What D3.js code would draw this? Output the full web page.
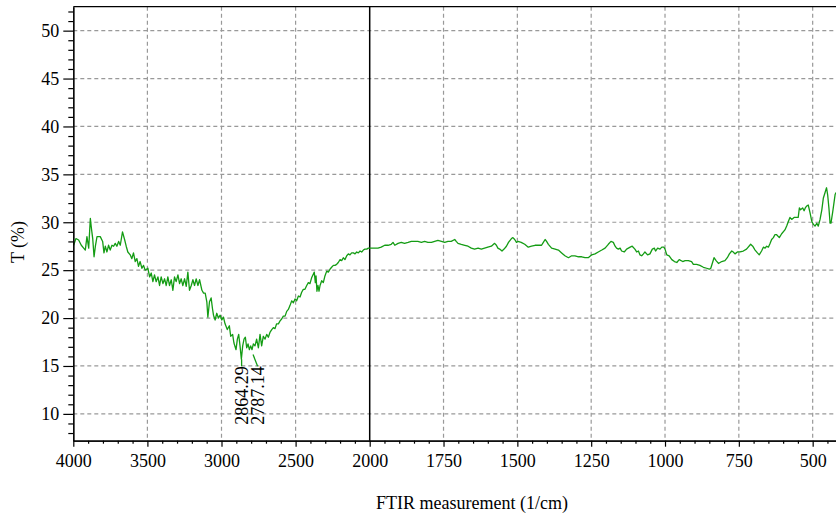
<!DOCTYPE html>
<html>
<head>
<meta charset="utf-8">
<script src="https://cdn.jsdelivr.net/npm/d3@7"></script>
<style>
  html, body { margin: 0; padding: 0; background: #fff; }
  svg { display: block; }
</style>
</head>
<body>
<svg id="chart" width="836" height="514"></svg>
<script>
// ---------------- DATA ----------------
const wavenumber = [
  3998,3982,3964,3946,3930,3919,3908,3896,3885,3878,3869,3860,3851,3840,3818,3802,3793,3784,3773,3762,
  3751,3739,3728,3717,3706,3694,3683,3668,3654,3643,3632,3616,3605,3594,3582,3571,3560,3549,3537,3526,
  3515,3497,3485,3474,3463,3452,3441,3429,3418,3407,3395,3384,3373,3362,3351,3339,3328,3317,3306,3294,
  3283,3272,3261,3249,3238,3227,3216,3204,3193,3182,3171,3159,3148,3132,3121,3110,3099,3092,3081,3070,
  3061,3054,3043,3032,3021,3009,2998,2987,2976,2961,2947,2938,2925,2916,2902,2893,2884,2875,2866,2857,
  2848,2839,2830,2821,2812,2803,2794,2785,2774,2763,2751,2740,2729,2718,2706,2695,2684,2673,2661,2650,
  2639,2628,2616,2605,2594,2583,2571,2560,2549,2538,2526,2515,2504,2493,2481,2470,2459,2448,2437,2425,
  2414,2403,2392,2380,2374,2367,2362,2356,2349,2342,2335,2324,2313,2302,2290,2279,2268,2257,2245,2234,
  2223,2212,2200,2189,2178,2167,2155,2144,2133,2122,2110,2099,2088,2077,2065,2054,2043,2032,2020,2009,
  1995,1983,1972,1961,1949,1938,1927,1921,1915,1904,1893,1882,1870,1859,1848,1837,1825,1814,1803,1791,
  1780,1769,1757,1746,1735,1724,1712,1707,1701,1690,1678,1667,1656,1645,1633,1622,1611,1600,1588,1577,
  1571,1566,1560,1552,1545,1537,1530,1520,1515,1509,1503,1498,1487,1475,1463,1452,1440,1429,1418,1412,
  1406,1401,1395,1384,1372,1361,1350,1339,1327,1316,1305,1293,1282,1271,1260,1248,1237,1226,1214,1203,
  1192,1183,1175,1169,1164,1158,1152,1147,1138,1130,1118,1111,1102,1096,1090,1085,1079,1073,1068,1059,
  1051,1043,1036,1032,1025,1017,1011,1004,1000,994,986,977,968,960,952,940,932,921,910,904,
  893,882,870,859,850,845,840,834,827,819,808,797,789,782,774,769,763,755,746,735,
  724,710,703,695,687,681,673,667,661,656,650,644,639,633,628,622,613,605,594,588,
  582,577,571,563,554,549,545,541,534,529,525,520,515,509,503,498,492,486,481,475,
  469,464,458,453,449,445,441,438,432,428,424,421
];
const transmittance = [
  27.6,28.3,28.15,27.6,27.3,27.1,28.5,27.3,30.4,29.4,28.3,26.4,27.5,28.5,28.5,28.0,26.8,27.5,26.9,27.6,
  27.1,27.6,27.5,27.8,27.5,28.0,27.6,29.0,28.2,27.5,26.9,26.6,26.2,26.8,25.9,26.2,25.4,25.9,25.2,25.5,
  25.0,25.2,24.3,24.7,23.8,24.5,23.8,24.3,23.4,24.3,23.6,24.1,23.4,24.3,23.4,24.0,22.9,24.3,23.8,24.5,
  23.6,24.1,23.4,24.1,23.3,24.8,22.9,23.4,24.0,23.4,24.1,23.4,24.0,22.9,22.6,22.6,21.7,20.1,21.7,22.1,
  21.0,20.3,19.8,20.5,20.0,20.3,19.8,20.1,19.4,18.8,19.2,18.1,18.3,17.4,16.7,17.8,18.3,17.1,15.7,17.1,
  17.8,18.0,16.9,17.3,16.7,17.1,16.7,17.3,17.1,17.8,16.9,18.3,17.1,18.1,17.8,18.3,18.0,18.5,18.8,19.0,
  18.9,19.4,19.4,19.7,19.9,20.2,20.2,20.7,20.9,21.3,21.8,21.6,22.0,21.8,22.3,22.2,22.7,23.0,23.0,23.4,
  23.7,23.6,24.2,24.6,24.8,23.7,24.4,22.8,23.4,22.8,23.4,23.9,23.7,24.4,24.9,24.8,25.1,25.3,25.5,25.5,
  25.6,25.8,26.1,26.0,26.3,26.1,26.5,26.7,26.6,26.8,26.8,26.7,26.9,26.8,27.0,26.9,27.1,27.2,27.2,27.3,
  27.3,27.3,27.3,27.4,27.6,27.6,27.7,27.9,27.6,27.8,27.9,27.8,27.9,28.0,28.0,28.0,27.9,28.0,27.9,27.9,
  28.0,28.1,28.0,27.9,28.0,28.0,28.2,28.0,27.8,27.7,27.6,27.5,27.3,27.2,27.3,27.2,27.3,27.4,27.5,27.8,
  27.6,27.3,27.2,27.0,27.2,27.5,27.9,28.3,28.4,28.2,27.9,28.0,27.9,27.7,27.4,27.5,27.6,27.6,27.6,27.9,
  28.2,28.0,27.7,27.3,27.2,27.1,26.8,26.5,26.3,26.5,26.5,26.4,26.4,26.3,26.3,26.6,26.7,26.9,27.1,27.3,
  27.7,28.0,27.9,27.5,27.3,27.2,27.3,27.0,26.9,27.2,27.4,27.5,27.2,26.9,27.0,26.6,26.5,26.7,26.9,26.6,
  26.7,27.2,27.3,27.0,27.3,27.2,27.4,27.4,27.2,26.6,26.5,26.1,25.9,25.8,26.1,25.9,26.0,26.0,25.9,25.6,
  25.6,25.5,25.3,25.2,25.1,25.2,25.7,26.3,26.0,25.7,25.9,26.0,26.3,26.7,27.0,26.9,26.7,26.9,26.9,27.0,
  27.2,27.7,27.5,27.1,26.8,26.6,27.0,27.4,27.3,27.5,27.4,27.8,28.2,28.4,28.7,28.7,28.4,28.8,29.2,29.6,
  30.1,30.5,30.3,30.5,30.5,30.5,31.5,31.3,31.5,31.2,31.5,31.7,31.8,31.0,30.1,29.8,29.6,29.9,29.6,30.3,
  31.3,32.5,33.1,33.6,32.8,31.5,29.9,29.9,31.1,32.0,32.9,33.1
];
const xMajorTicks = [4000, 3500, 3000, 2500, 2000, 1750, 1500, 1250, 1000, 750, 500];
const yMajorTicks = [10, 15, 20, 25, 30, 35, 40, 45, 50];
const peakLabels = ["2864.29", "2787.14"];
const peakWavenumber = [2864.29, 2787.14];
const peakTransmittance = [15.7, 16.2];
const xTitle = "FTIR measurement (1/cm)";
const yTitle = "T (%)";

// ---------------- LAYOUT ----------------
(function () {
const svg = d3.select("#chart");
const FONT = "\"Liberation Serif\", cursive";
const pL = 73.3, pR = 836, pT = 6.7, pB = 440.7;
const breakWn = 2000;

const x = d3.scaleLinear().domain([4000, breakWn, 421]).range([pL, 369.7, pR]);
const y = d3.scaleLinear().domain([7.2, 52.5]).range([pB, pT]);

const xMinor = d3.range(4000, 2000, -100).concat(d3.range(2000, 421, -50)).filter(v => !xMajorTicks.includes(v));
const yMinor = d3.range(8, 53, 1).filter(v => !yMajorTicks.includes(v));

// grid
const grid = svg.append("g").attr("stroke", "#999").attr("stroke-width", 1.2).attr("stroke-dasharray", "4,3");
grid.selectAll("line.v").data(xMajorTicks.filter(v => v !== 4000 && v !== breakWn)).join("line")
  .attr("class", "v")
  .attr("x1", d => x(d)).attr("x2", d => x(d)).attr("y1", pT).attr("y2", pB);
grid.selectAll("line.h").data(yMajorTicks).join("line")
  .attr("class", "h")
  .attr("x1", pL).attr("x2", pR).attr("y1", d => y(d)).attr("y2", d => y(d));

// break line at 2000
svg.append("line").attr("x1", x(breakWn)).attr("x2", x(breakWn)).attr("y1", pT).attr("y2", pB)
  .attr("stroke", "#000").attr("stroke-width", 1.5);

// top frame
svg.append("line").attr("x1", pL).attr("x2", pR).attr("y1", pT).attr("y2", pT)
  .attr("stroke", "#000").attr("stroke-width", 1.2);

// data line
const data = wavenumber.map((w, i) => [w, transmittance[i]]);
svg.append("path").datum(data)
  .attr("fill", "none").attr("stroke", "#149c14").attr("stroke-width", 1.3).attr("stroke-linejoin", "round")
  .attr("d", d3.line().x(d => x(d[0])).y(d => y(d[1])));

// axes
function styleAxis(g) {
  g.selectAll("path.domain").attr("stroke", "#000").attr("stroke-width", 1.2);
  g.selectAll(".tick line").attr("stroke", "#000").attr("stroke-width", 1.2);
  g.selectAll("text").attr("fill", "#000").style("font-family", FONT).style("font-size", "18px");
}
svg.append("g").attr("transform", `translate(0,${pB})`)
  .call(d3.axisBottom(x).tickValues(xMinor).tickSize(3).tickSizeOuter(0).tickFormat(""))
  .call(styleAxis);
svg.append("g").attr("transform", `translate(0,${pB})`)
  .call(d3.axisBottom(x).tickValues(xMajorTicks).tickSize(6).tickSizeOuter(0).tickPadding(8).tickFormat(d3.format("d")))
  .call(styleAxis);
svg.append("g").attr("transform", `translate(${pL},0)`)
  .call(d3.axisLeft(y).tickValues(yMinor).tickSize(5).tickSizeOuter(0).tickFormat(""))
  .call(styleAxis);
svg.append("g").attr("transform", `translate(${pL},0)`)
  .call(d3.axisLeft(y).tickValues(yMajorTicks).tickSize(10).tickSizeOuter(0).tickPadding(4).tickFormat(d3.format("d")))
  .call(styleAxis);

// axis titles
svg.append("text").attr("x", 472).attr("y", 509).attr("text-anchor", "middle")
  .style("font-family", FONT).style("font-size", "18px").text(xTitle);
svg.append("text").attr("transform", "translate(24,242) rotate(-90)").attr("text-anchor", "middle")
  .style("font-family", FONT).style("font-size", "18px").text(yTitle);

// peak annotations
const labelTop = d3.max(peakTransmittance, t => y(t)) + 7;
let prevX = -Infinity;
peakLabels.forEach((lab, i) => {
  const px = x(peakWavenumber[i]);
  const lx = Math.max(px, prevX + 16);
  prevX = lx;
  svg.append("line").attr("x1", px).attr("y1", y(peakTransmittance[i]))
    .attr("x2", lx).attr("y2", labelTop)
    .attr("stroke", "#149c14").attr("stroke-width", 1.3);
  svg.append("text").attr("transform", `translate(${lx},${labelTop}) rotate(-90)`)
    .attr("text-anchor", "end").attr("dy", "0.35em")
    .style("font-family", FONT).style("font-size", "18px").text(lab);
});
})();
</script>
</body>
</html>
